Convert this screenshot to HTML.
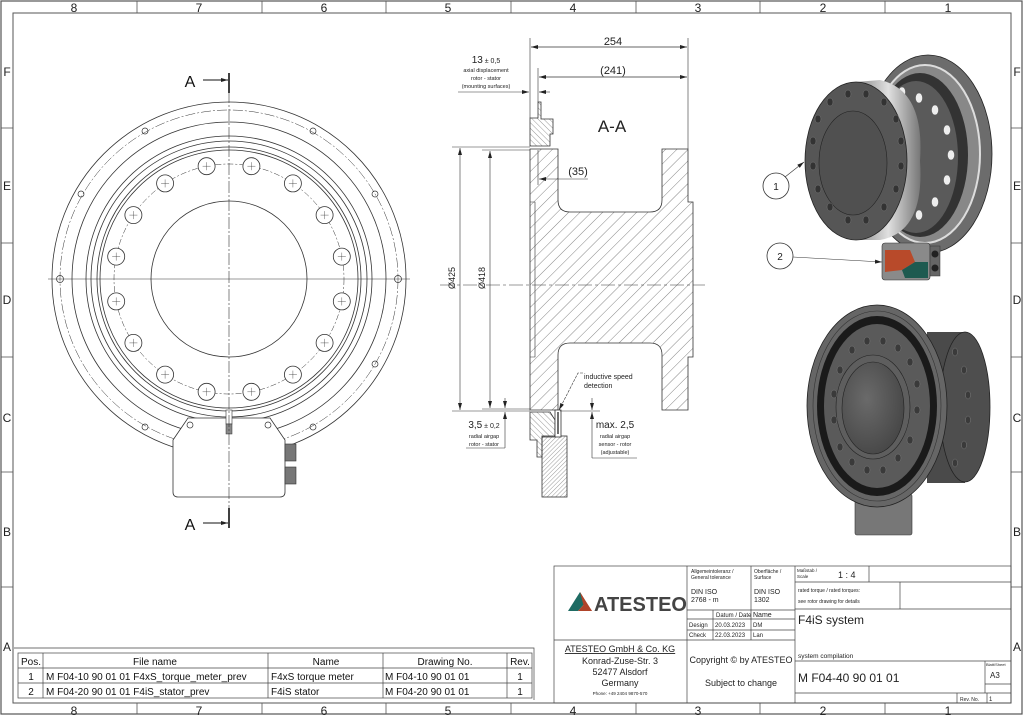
<!DOCTYPE html>
<html><head><meta charset="utf-8"><style>
html,body{margin:0;padding:0;background:#fff;}
svg{display:block;font-family:"Liberation Sans",sans-serif;}
</style></head><body>
<svg width="1024" height="716" viewBox="0 0 1024 716" xmlns="http://www.w3.org/2000/svg">
<defs>
<pattern id="h1" patternUnits="userSpaceOnUse" width="8" height="8" patternTransform="rotate(45)"><line x1="0" y1="0" x2="0" y2="8" stroke="#333" stroke-width="0.6"/></pattern>
<pattern id="h2" patternUnits="userSpaceOnUse" width="4" height="4" patternTransform="rotate(-45)"><line x1="0" y1="0" x2="0" y2="4" stroke="#333" stroke-width="0.5"/></pattern>
<pattern id="h3" patternUnits="userSpaceOnUse" width="3" height="3" patternTransform="rotate(45)"><line x1="0" y1="0" x2="0" y2="3" stroke="#333" stroke-width="0.5"/></pattern>
<marker id="ar" markerWidth="8" markerHeight="6" refX="7" refY="3" orient="auto" markerUnits="userSpaceOnUse"><path d="M0,1 L7,3 L0,5 z" fill="#222"/></marker>
<radialGradient id="g1" cx="0.4" cy="0.4" r="0.7"><stop offset="0" stop-color="#6a6a6a"/><stop offset="1" stop-color="#444"/></radialGradient>
<linearGradient id="g2" x1="0" x2="1"><stop offset="0" stop-color="#888"/><stop offset="0.5" stop-color="#e0e0e0"/><stop offset="1" stop-color="#777"/></linearGradient>
<g id="bh"><circle r="8.5" fill="#fff" stroke="#333" stroke-width="0.8"/><path d="M-4,0 H4 M0,-4 V4" stroke="#333" stroke-width="0.4"/></g>
</defs>
<!-- frame -->
<rect x="1" y="1" width="1021" height="713" fill="none" stroke="#555" stroke-width="1.2"/>
<rect x="13" y="13" width="998" height="690" fill="none" stroke="#555" stroke-width="1"/>
<g stroke="#555" stroke-width="0.8">
<line x1="137" y1="1" x2="137" y2="13"/><line x1="262" y1="1" x2="262" y2="13"/><line x1="386" y1="1" x2="386" y2="13"/><line x1="511" y1="1" x2="511" y2="13"/><line x1="636" y1="1" x2="636" y2="13"/><line x1="760" y1="1" x2="760" y2="13"/><line x1="885" y1="1" x2="885" y2="13"/>
<line x1="137" y1="703" x2="137" y2="714"/><line x1="262" y1="703" x2="262" y2="714"/><line x1="386" y1="703" x2="386" y2="714"/><line x1="511" y1="703" x2="511" y2="714"/><line x1="636" y1="703" x2="636" y2="714"/><line x1="760" y1="703" x2="760" y2="714"/><line x1="885" y1="703" x2="885" y2="714"/>
<line x1="1" y1="128" x2="13" y2="128"/><line x1="1" y1="243" x2="13" y2="243"/><line x1="1" y1="357" x2="13" y2="357"/><line x1="1" y1="472" x2="13" y2="472"/><line x1="1" y1="587" x2="13" y2="587"/>
<line x1="1011" y1="128" x2="1022" y2="128"/><line x1="1011" y1="243" x2="1022" y2="243"/><line x1="1011" y1="357" x2="1022" y2="357"/><line x1="1011" y1="472" x2="1022" y2="472"/><line x1="1011" y1="587" x2="1022" y2="587"/>
</g>
<g font-size="12" fill="#222" text-anchor="middle">
<text x="74" y="12">8</text><text x="199" y="12">7</text><text x="324" y="12">6</text><text x="448" y="12">5</text><text x="573" y="12">4</text><text x="698" y="12">3</text><text x="823" y="12">2</text><text x="948" y="12">1</text>
<text x="74" y="715">8</text><text x="199" y="715">7</text><text x="324" y="715">6</text><text x="448" y="715">5</text><text x="573" y="715">4</text><text x="698" y="715">3</text><text x="823" y="715">2</text><text x="948" y="715">1</text>
<text x="7" y="76">F</text><text x="7" y="190">E</text><text x="7" y="304">D</text><text x="7" y="422">C</text><text x="7" y="536">B</text><text x="7" y="651">A</text>
<text x="1017" y="76">F</text><text x="1017" y="190">E</text><text x="1017" y="304">D</text><text x="1017" y="422">C</text><text x="1017" y="536">B</text><text x="1017" y="651">A</text>
</g>

<!-- FRONT VIEW -->
<g fill="none" stroke="#333" stroke-width="0.8">
<circle cx="229" cy="279" r="177"/>
<circle cx="229" cy="279" r="169" stroke-dasharray="10,2,2,2" stroke-width="0.5"/>
<circle cx="229" cy="279" r="157"/>
<circle cx="229" cy="279" r="143"/>
<circle cx="229" cy="279" r="138"/>
<circle cx="229" cy="279" r="132"/>
<circle cx="229" cy="279" r="129"/>
<circle cx="229" cy="279" r="115" stroke-dasharray="6,2,2,2" stroke-width="0.5"/>
<circle cx="229" cy="279" r="78"/>
</g>
<g>
<use href="#bh" x="251.4" y="166.2"/><use href="#bh" x="206.6" y="166.2"/>
<use href="#bh" x="292.9" y="183.4"/><use href="#bh" x="165.1" y="183.4"/>
<use href="#bh" x="324.6" y="215.1"/><use href="#bh" x="133.4" y="215.1"/>
<use href="#bh" x="341.8" y="256.6"/><use href="#bh" x="116.2" y="256.6"/>
<use href="#bh" x="341.8" y="301.4"/><use href="#bh" x="116.2" y="301.4"/>
<use href="#bh" x="324.6" y="342.9"/><use href="#bh" x="133.4" y="342.9"/>
<use href="#bh" x="292.9" y="374.6"/><use href="#bh" x="165.1" y="374.6"/>
<use href="#bh" x="251.4" y="391.8"/><use href="#bh" x="206.6" y="391.8"/>
</g>
<g fill="none" stroke="#333" stroke-width="0.7">
<circle cx="398" cy="279" r="3.5"/><circle cx="60" cy="279" r="3.5"/>
<circle cx="375" cy="194" r="3"/><circle cx="313" cy="131" r="3"/><circle cx="145" cy="131" r="3"/><circle cx="81" cy="194" r="3"/>
<circle cx="375" cy="364" r="3"/><circle cx="145" cy="427" r="3"/><circle cx="313" cy="427" r="3"/>
</g>
<!-- housing -->
<path d="M173,440 L188,418 L270,418 L285,440 L285,492 Q285,497 280,497 L178,497 Q173,497 173,492 Z" fill="#fff" stroke="#333" stroke-width="0.8"/>
<circle cx="190" cy="425" r="3" fill="none" stroke="#333" stroke-width="0.7"/>
<circle cx="268" cy="425" r="3" fill="none" stroke="#333" stroke-width="0.7"/>
<rect x="226" y="410" width="6" height="14" fill="#fff" stroke="#333" stroke-width="0.6"/>
<rect x="226" y="424" width="6" height="10" fill="#888" stroke="#333" stroke-width="0.5"/>
<rect x="285" y="444" width="11" height="17" fill="#777" stroke="#333" stroke-width="0.6"/>
<rect x="285" y="467" width="11" height="17" fill="#777" stroke="#333" stroke-width="0.6"/>
<line x1="229" y1="73" x2="229" y2="528" stroke="#333" stroke-width="0.6" stroke-dasharray="12,2,2,2"/>
<line x1="48" y1="279" x2="410" y2="279" stroke="#333" stroke-width="0.6"/>
<line x1="229" y1="73" x2="229" y2="93" stroke="#111" stroke-width="1.6"/>
<line x1="229" y1="508" x2="229" y2="528" stroke="#111" stroke-width="1.6"/>
<line x1="203" y1="80" x2="228" y2="80" stroke="#111" stroke-width="1" marker-end="url(#ar)"/>
<line x1="203" y1="523" x2="228" y2="523" stroke="#111" stroke-width="1" marker-end="url(#ar)"/>
<text x="190" y="87" font-size="16" fill="#111" text-anchor="middle">A</text>
<text x="190" y="530" font-size="16" fill="#111" text-anchor="middle">A</text>

<!-- SECTION VIEW -->
<g stroke="#333" stroke-width="0.8">
<path d="M530,149 L558,149 L558,200 Q558,212 570,212 L650,212 Q662,212 662,200 L662,149 L688,149 L688,202 L693,202 L693,357 L688,357 L688,410 L662,410 L662,355 Q662,343 650,343 L570,343 Q558,343 558,355 L558,410 L530,410 Z" fill="url(#h1)"/>
<path d="M530,202 L535,202 L535,357 L530,357" fill="none" stroke-width="0.6"/>
<path d="M538,102 L541,102 L541,119 L553,119 L553,134 L550,134 L550,146 L530,146 L530,118 L538,118 Z" fill="url(#h2)"/>
<path d="M530,412 L550,412 L555,420 L555,437 L542,437 L542,457 L537,457 L537,440 L530,440 Z" fill="url(#h2)"/>
<rect x="542" y="436" width="25" height="61" fill="url(#h3)"/>
<rect x="555" y="410" width="6" height="27" fill="#fff"/>
<line x1="558" y1="412" x2="558" y2="434" stroke-width="1.4"/>
</g>
<line x1="440" y1="285" x2="705" y2="285" stroke="#333" stroke-width="0.5" stroke-dasharray="14,3,3,3"/>
<g stroke="#333" stroke-width="0.6" fill="none">
<line x1="530" y1="38" x2="530" y2="118"/><line x1="688" y1="38" x2="688" y2="149"/>
<line x1="538" y1="68" x2="538" y2="102"/>
<line x1="531" y1="47" x2="687" y2="47" marker-end="url(#ar)"/><line x1="687" y1="47" x2="531" y2="47" marker-end="url(#ar)"/>
<line x1="539" y1="77" x2="687" y2="77" marker-end="url(#ar)"/><line x1="687" y1="77" x2="539" y2="77" marker-end="url(#ar)"/>
<line x1="458" y1="92" x2="529" y2="92" marker-end="url(#ar)"/><line x1="550" y1="92" x2="539" y2="92" marker-end="url(#ar)"/>
<line x1="538" y1="150" x2="538" y2="185"/>
<line x1="588" y1="179" x2="539" y2="179" marker-end="url(#ar)"/>
<line x1="452" y1="147" x2="530" y2="147"/><line x1="482" y1="150" x2="530" y2="150"/>
<line x1="452" y1="411" x2="530" y2="411"/><line x1="482" y1="409" x2="530" y2="409"/>
<line x1="560" y1="411" x2="600" y2="411"/>
<line x1="460" y1="278" x2="460" y2="148" marker-end="url(#ar)"/><line x1="460" y1="278" x2="460" y2="410" marker-end="url(#ar)"/>
<line x1="490" y1="278" x2="490" y2="151" marker-end="url(#ar)"/><line x1="490" y1="278" x2="490" y2="408" marker-end="url(#ar)"/>
<line x1="505" y1="398" x2="505" y2="408" marker-end="url(#ar)"/><line x1="505" y1="448" x2="505" y2="412" marker-end="url(#ar)"/>
<line x1="466" y1="448" x2="505" y2="448"/>
<line x1="592" y1="398" x2="592" y2="410" marker-end="url(#ar)"/><line x1="592" y1="458" x2="592" y2="412" marker-end="url(#ar)"/>
<line x1="592" y1="458" x2="637" y2="458"/>
<polyline points="583,373 578,373 559,410" stroke-dasharray="3,1" marker-end="url(#ar)"/>
</g>
<g fill="#222" text-anchor="middle">
<text x="613" y="45" font-size="11">254</text>
<text x="613" y="74" font-size="11">(241)</text>
<text x="578" y="175" font-size="11">(35)</text>
<text x="612" y="132" font-size="17">A-A</text>
<text x="486" y="63" font-size="10">13<tspan font-size="7"> ± 0,5</tspan></text>
<text x="486" y="72" font-size="5.5">axial displacement</text>
<text x="486" y="80" font-size="5.5">rotor - stator</text>
<text x="486" y="88" font-size="5.5">(mounting surfaces)</text>
<text x="484" y="428" font-size="10">3,5<tspan font-size="7"> ± 0,2</tspan></text>
<text x="484" y="438" font-size="5.5">radial airgap</text>
<text x="484" y="446" font-size="5.5">rotor - stator</text>
<text x="615" y="428" font-size="10">max. 2,5</text>
<text x="615" y="438" font-size="5.5">radial airgap</text>
<text x="615" y="446" font-size="5.5">sensor - rotor</text>
<text x="615" y="454" font-size="5.5">(adjustable)</text>
<text x="455" y="278" font-size="9" transform="rotate(-90 455 278)">Ø425</text>
<text x="485" y="278" font-size="9" transform="rotate(-90 485 278)">Ø418</text>
</g>
<text x="584" y="379" font-size="7" fill="#222">inductive speed</text>
<text x="584" y="388" font-size="7" fill="#222">detection</text>

<!-- 3D render top -->
<g>
<ellipse cx="928" cy="154" rx="64" ry="99" fill="#6c6c6c" stroke="#222" stroke-width="0.8"/>
<ellipse cx="925" cy="154" rx="55" ry="89" fill="#888" stroke="#ddd" stroke-width="2"/>
<ellipse cx="920" cy="155" rx="48" ry="82" fill="#333"/>
<ellipse cx="916" cy="157" rx="42" ry="76" fill="#5a5a5a"/>
<g fill="#eee" stroke="#555" stroke-width="0.4">
<ellipse cx="902" cy="92" rx="3.5" ry="5"/><ellipse cx="919" cy="98" rx="3.5" ry="5"/><ellipse cx="935" cy="110" rx="3.5" ry="5"/><ellipse cx="947" cy="130" rx="3.5" ry="5"/><ellipse cx="951" cy="155" rx="3.5" ry="5"/><ellipse cx="947" cy="180" rx="3.5" ry="5"/><ellipse cx="935" cy="202" rx="3.5" ry="5"/><ellipse cx="919" cy="215" rx="3.5" ry="5"/><ellipse cx="902" cy="220" rx="3.5" ry="5"/>
</g>
<path d="M856,82 L880,80 Q925,90 920,161 Q925,232 880,240 L856,240 Z" fill="url(#g2)"/>
<ellipse cx="856" cy="161" rx="51" ry="79" fill="#565656" stroke="#222" stroke-width="0.8"/>
<ellipse cx="853" cy="163" rx="34" ry="52" fill="#505050" stroke="#222" stroke-width="0.6"/>
<g fill="#333" stroke="#777" stroke-width="0.5">
<ellipse cx="848" cy="94" rx="3" ry="4"/><ellipse cx="866" cy="94" rx="3" ry="4"/><ellipse cx="884" cy="102" rx="3" ry="4"/><ellipse cx="896" cy="119" rx="3" ry="4"/><ellipse cx="901" cy="141" rx="3" ry="4"/><ellipse cx="901" cy="166" rx="3" ry="4"/><ellipse cx="896" cy="189" rx="3" ry="4"/><ellipse cx="884" cy="207" rx="3" ry="4"/><ellipse cx="866" cy="220" rx="3" ry="4"/><ellipse cx="848" cy="220" rx="3" ry="4"/><ellipse cx="830" cy="207" rx="3" ry="4"/><ellipse cx="818" cy="189" rx="3" ry="4"/><ellipse cx="813" cy="166" rx="3" ry="4"/><ellipse cx="813" cy="141" rx="3" ry="4"/><ellipse cx="818" cy="119" rx="3" ry="4"/><ellipse cx="830" cy="102" rx="3" ry="4"/>
</g>
<rect x="882" y="243" width="48" height="37" rx="3" fill="#8a8a8a" stroke="#333" stroke-width="0.6"/>
<path d="M885,250 L910,250 L915,262 L902,270 L885,272 Z" fill="#b84a2a"/>
<path d="M902,270 L915,262 L928,262 L928,278 L905,278 Z" fill="#1e5a50"/>
<rect x="930" y="246" width="10" height="30" fill="#666" stroke="#333" stroke-width="0.5"/>
<circle cx="935" cy="254" r="3.5" fill="#222"/><circle cx="935" cy="268" r="3.5" fill="#222"/>
</g>
<circle cx="776" cy="186" r="13" fill="#fff" stroke="#333" stroke-width="0.8"/>
<text x="776" y="190" font-size="10" text-anchor="middle" fill="#222">1</text>
<line x1="785" y1="177" x2="804" y2="162" stroke="#333" stroke-width="0.6" marker-end="url(#ar)"/>
<circle cx="780" cy="256" r="13" fill="#fff" stroke="#333" stroke-width="0.8"/>
<text x="780" y="260" font-size="10" text-anchor="middle" fill="#222">2</text>
<line x1="793" y1="257" x2="882" y2="262" stroke="#333" stroke-width="0.6" marker-end="url(#ar)"/>

<!-- 3D render bottom -->
<g>
<rect x="855" y="494" width="57" height="41" rx="2" fill="#777" stroke="#333" stroke-width="0.6"/>
<path d="M927,332 L965,332 L965,483 L927,483 Z" fill="#4a4a4a"/>
<ellipse cx="965" cy="407" rx="25" ry="75" fill="#4e4e4e" stroke="#222" stroke-width="0.8"/>
<ellipse cx="877" cy="406" rx="70" ry="101" fill="#666" stroke="#222" stroke-width="0.8"/>
<ellipse cx="877" cy="406" rx="64" ry="95" fill="none" stroke="#333" stroke-width="0.6"/>
<ellipse cx="877" cy="406" rx="60" ry="90" fill="#1a1a1a"/>
<ellipse cx="877" cy="406" rx="53" ry="82" fill="#5a5a5a"/>
<ellipse cx="873" cy="407" rx="37" ry="52" fill="#5e5e5e" stroke="#222" stroke-width="0.6"/>
<ellipse cx="873" cy="408" rx="31" ry="46" fill="url(#g1)" stroke="#222" stroke-width="0.6"/>
<g fill="#3a3a3a" stroke="#888" stroke-width="0.4">
<ellipse cx="867" cy="341" rx="3" ry="4"/><ellipse cx="883" cy="341" rx="3" ry="4"/><ellipse cx="898" cy="348" rx="3" ry="4"/><ellipse cx="910" cy="362" rx="3" ry="4"/><ellipse cx="917" cy="384" rx="3" ry="4"/><ellipse cx="917" cy="410" rx="3" ry="4"/><ellipse cx="910" cy="440" rx="3" ry="4"/><ellipse cx="898" cy="458" rx="3" ry="4"/><ellipse cx="883" cy="470" rx="3" ry="4"/><ellipse cx="867" cy="470" rx="3" ry="4"/><ellipse cx="852" cy="462" rx="3" ry="4"/><ellipse cx="840" cy="447" rx="3" ry="4"/><ellipse cx="834" cy="420" rx="3" ry="4"/><ellipse cx="834" cy="394" rx="3" ry="4"/><ellipse cx="840" cy="370" rx="3" ry="4"/><ellipse cx="852" cy="350" rx="3" ry="4"/>
<ellipse cx="955" cy="352" rx="2.5" ry="4"/><ellipse cx="964" cy="370" rx="2.5" ry="4"/><ellipse cx="968" cy="395" rx="2.5" ry="4"/><ellipse cx="968" cy="420" rx="2.5" ry="4"/><ellipse cx="964" cy="445" rx="2.5" ry="4"/><ellipse cx="955" cy="463" rx="2.5" ry="4"/>
</g>
</g>

<!-- PARTS LIST -->
<g stroke="#444" stroke-width="0.7" fill="none">
<rect x="18" y="653" width="514" height="45"/>
<line x1="18" y1="668" x2="532" y2="668"/><line x1="18" y1="683" x2="532" y2="683"/>
<line x1="43" y1="653" x2="43" y2="698"/><line x1="268" y1="653" x2="268" y2="698"/><line x1="383" y1="653" x2="383" y2="698"/><line x1="507" y1="653" x2="507" y2="698"/>
<polyline points="14,648 534,648 534,700"/>
</g>
<g font-size="10" fill="#111">
<text x="31" y="665" text-anchor="middle">Pos.</text><text x="155" y="665" text-anchor="middle">File name</text><text x="326" y="665" text-anchor="middle">Name</text><text x="445" y="665" text-anchor="middle">Drawing No.</text><text x="520" y="665" text-anchor="middle">Rev.</text>
<text x="31" y="680" text-anchor="middle">1</text><text x="46" y="680">M F04-10 90 01 01  F4xS_torque_meter_prev</text><text x="271" y="680">F4xS torque meter</text><text x="385" y="680">M F04-10 90 01 01</text><text x="520" y="680" text-anchor="middle">1</text>
<text x="31" y="695" text-anchor="middle">2</text><text x="46" y="695">M F04-20 90 01 01  F4iS_stator_prev</text><text x="271" y="695">F4iS stator</text><text x="385" y="695">M F04-20 90 01 01</text><text x="520" y="695" text-anchor="middle">1</text>
</g>

<!-- TITLE BLOCK -->
<g stroke="#444" stroke-width="0.7" fill="none">
<rect x="554" y="566" width="457" height="137"/>
<line x1="687" y1="566" x2="687" y2="703"/>
<line x1="554" y1="640" x2="795" y2="640"/>
<line x1="751" y1="566" x2="751" y2="640"/>
<line x1="795" y1="566" x2="795" y2="703"/>
<line x1="713" y1="610" x2="713" y2="640"/>
<line x1="687" y1="610" x2="795" y2="610"/><line x1="687" y1="619" x2="795" y2="619"/><line x1="687" y1="630" x2="795" y2="630"/>
<line x1="795" y1="582" x2="1011" y2="582"/><line x1="795" y1="609" x2="1011" y2="609"/>
<line x1="869" y1="566" x2="869" y2="582"/><line x1="900" y1="582" x2="900" y2="609"/>
<line x1="795" y1="661" x2="1011" y2="661"/>
<line x1="985" y1="661" x2="985" y2="693"/><line x1="985" y1="684" x2="1011" y2="684"/>
<line x1="795" y1="693" x2="1011" y2="693"/>
<line x1="957" y1="693" x2="957" y2="703"/><line x1="987" y1="693" x2="987" y2="703"/>
</g>
<path d="M568,611 L580,592 L586,602 L578,611 Z" fill="#1e6b63"/>
<path d="M580,592 L592,611 L584,611 L584,607 Z" fill="#b0442a"/>
<path d="M578,611 L586,602 L592,611 Z" fill="#b0442a"/>
<text x="594" y="611" font-size="20" font-weight="bold" fill="#444">ATESTEO</text>
<g fill="#222">
<text x="691" y="573" font-size="5">Allgemeintoleranz /</text><text x="691" y="579" font-size="5">General tolerance</text>
<text x="691" y="594" font-size="7">DIN ISO</text><text x="691" y="602" font-size="7">2768 - m</text>
<text x="754" y="573" font-size="5">Oberfläche /</text><text x="754" y="579" font-size="5">Surface</text>
<text x="754" y="594" font-size="7">DIN ISO</text><text x="754" y="602" font-size="7">1302</text>
<text x="716" y="617" font-size="6">Datum / Date</text><text x="753" y="617" font-size="7">Name</text>
<text x="689" y="627" font-size="6">Design</text><text x="715" y="627" font-size="6">20.03.2023</text><text x="753" y="627" font-size="6">DM</text>
<text x="689" y="637" font-size="6">Check</text><text x="715" y="637" font-size="6">22.03.2023</text><text x="753" y="637" font-size="6">Lan</text>
<text x="797" y="572" font-size="4.5">Maßstab /</text><text x="797" y="578" font-size="4.5">Scale</text>
<text x="838" y="578" font-size="9">1 : 4</text>
<text x="798" y="592" font-size="5">rated torque / rated torques:</text>
<text x="798" y="603" font-size="5">see rotor drawing for details</text>
<text x="798" y="624" font-size="12">F4iS system</text>
<text x="798" y="658" font-size="6.5">system compilation</text>
<text x="798" y="682" font-size="12">M F04-40 90 01 01</text>
<text x="986" y="666" font-size="4">Blatt/Sheet</text><text x="990" y="678" font-size="8">A3</text>
<text x="960" y="701" font-size="5">Rev. No.</text><text x="989" y="701" font-size="6">1</text>
<text x="620" y="652" font-size="9" text-anchor="middle" text-decoration="underline">ATESTEO GmbH &amp; Co. KG</text>
<text x="620" y="664" font-size="9" text-anchor="middle">Konrad-Zuse-Str. 3</text>
<text x="620" y="675" font-size="9" text-anchor="middle">52477 Alsdorf</text>
<text x="620" y="686" font-size="9" text-anchor="middle">Germany</text>
<text x="620" y="695" font-size="4.5" text-anchor="middle">Phone: +49 2404 9870-570</text>
<text x="741" y="663" font-size="9" text-anchor="middle">Copyright © by ATESTEO</text>
<text x="741" y="686" font-size="9" text-anchor="middle">Subject to change</text>
</g>
</svg>
</body></html>
